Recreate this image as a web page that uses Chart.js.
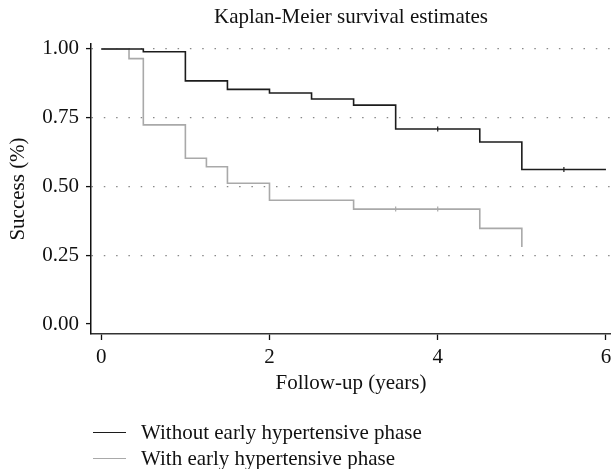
<!DOCTYPE html>
<html><head><meta charset="utf-8">
<script src="https://cdn.jsdelivr.net/npm/chart.js@4"></script>
<style>
html,body{margin:0;padding:0;background:#fff;}
#wrap{position:relative;width:611px;height:469px;}
canvas{display:block}
#legend{position:absolute;left:93px;top:419px;font-family:"Liberation Serif",serif;font-size:21px;color:#111;}
#legend .row{display:flex;align-items:center;height:26px;white-space:nowrap}
#legend .sw{display:inline-block;width:33px;height:0;border-top:1.6px solid;margin-right:15px}
</style></head>
<body><div id="wrap"><canvas id="c" width="611" height="469"></canvas><div id="legend"></div></div>
<script>
const chartTitle = "Kaplan-Meier survival estimates";
const xTitle = "Follow-up (years)";
const yTitle = "Success (%)";
const xTicks = [0, 2, 4, 6];
const yTicks = [0, 0.25, 0.5, 0.75, 1];
const seriesNames = ["Without early hypertensive phase", "With early hypertensive phase"];
const seriesColors = ["#1c1c1c", "#a9a9a9"];
const withoutTimes = [0, 0.5, 1, 1.5, 2, 2.5, 3, 3.5, 4, 4.5, 5, 5.5, 6];
const withoutSurv  = [1, 0.99, 0.884, 0.853, 0.84, 0.818, 0.796, 0.709, 0.709, 0.662, 0.562, 0.562, 0.562];
const withoutCensored = [4, 5.5];
const withTimes = [0, 0.33, 0.5, 1, 1.25, 1.5, 2, 3, 3.5, 4, 4.5, 5];
const withSurv  = [1, 0.965, 0.724, 0.603, 0.572, 0.512, 0.45, 0.418, 0.418, 0.418, 0.348, 0.28];
const withCensored = [3.5, 4];

const FONT = {family: '"Liberation Serif", serif', size: 21, weight: 'normal'};
const pts = (t, s) => t.map((x, i) => ({x: x, y: s[i]}));
const censorRadius = (list) => (ctx) => (ctx.raw && list.includes(ctx.raw.x)) ? 2.5 : 0;

new Chart(document.getElementById('c'), {
  type: 'line',
  data: {
    datasets: [
      {label: seriesNames[0], data: pts(withoutTimes, withoutSurv), borderColor: seriesColors[0], backgroundColor: seriesColors[0],
       borderWidth: 1.6, stepped: 'before', fill: false, pointStyle: 'line', rotation: 90,
       pointRadius: censorRadius(withoutCensored), pointBorderWidth: 1.2, pointBorderColor: seriesColors[0]},
      {label: seriesNames[1], data: pts(withTimes, withSurv), borderColor: seriesColors[1], backgroundColor: seriesColors[1],
       borderWidth: 1.6, stepped: 'before', fill: false, pointStyle: 'line', rotation: 90,
       pointRadius: censorRadius(withCensored), pointBorderWidth: 1.2, pointBorderColor: seriesColors[1]}
    ]
  },
  options: {
    responsive: false, animation: false, devicePixelRatio: 1,
    layout: {padding: {left: 0, right: 0, top: 0, bottom: 73}},
    plugins: {
      legend: {display: false},
      tooltip: {enabled: false},
      title: {display: true, text: chartTitle, fullSize: false, color: '#111', font: FONT, padding: {top: 5, bottom: 13.8}}
    },
    scales: {
      x: {
        type: 'linear', min: -0.122, max: 6.06,
        afterBuildTicks: s => { s.ticks = xTicks.map(v => ({value: v})); },
        grid: {drawOnChartArea: false, drawTicks: true, tickLength: 6, tickColor: '#111', tickWidth: 1.3},
        border: {display: true, color: '#333', width: 1.5},
        ticks: {font: FONT, color: '#111', padding: 5, maxRotation: 0, autoSkip: false, callback: v => String(v)},
        title: {display: true, text: xTitle, font: FONT, color: '#111', padding: {top: 4, bottom: 0}},
        afterFit: s => { s.height = 62; s.paddingRight = 0; s.paddingLeft = 0; }
      },
      y: {
        type: 'linear', min: -0.036, max: 1.018,
        afterBuildTicks: s => { s.ticks = yTicks.map(v => ({value: v})); },
        grid: {color: c => (c.tick && c.tick.value === 0) ? 'rgba(0,0,0,0)' : '#888', lineWidth: 1.2,
               drawTicks: true, tickLength: 5, tickColor: '#111', tickWidth: 1.3},
        border: {display: true, color: '#111', width: 1.5, dash: [1.5, 10.8]},
        ticks: {font: FONT, color: '#111', padding: 7, callback: v => Number(v).toFixed(2)},
        title: {display: true, text: yTitle, font: FONT, color: '#111', padding: {top: 6, bottom: 4}},
        afterFit: s => { s.width = 91; }
      }
    }
  }
});

const lg = document.getElementById('legend');
seriesNames.forEach((n, i) => {
  const row = document.createElement('div'); row.className = 'row';
  const sw = document.createElement('span'); sw.className = 'sw'; sw.style.borderTopColor = seriesColors[i];
  const tx = document.createElement('span'); tx.textContent = n;
  row.appendChild(sw); row.appendChild(tx); lg.appendChild(row);
});
</script>
</body></html>
